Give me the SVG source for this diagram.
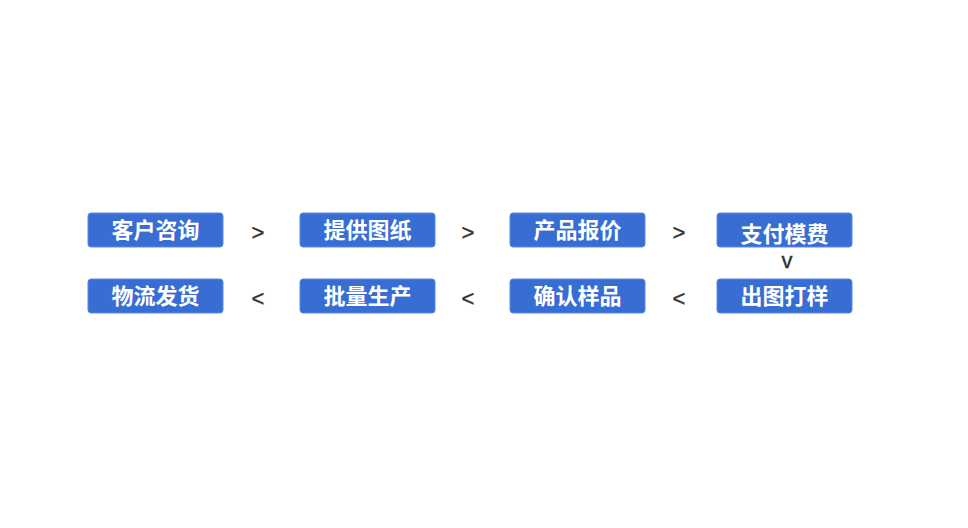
<svg xmlns="http://www.w3.org/2000/svg" width="968" height="528" viewBox="0 0 968 528">
<style>
.box{fill:#386dd4;stroke:#5a8ae0;stroke-width:1}
.lbl{font-family:"Noto Sans CJK SC","Liberation Sans",sans-serif;font-size:22px;font-weight:bold;fill:#ffffff;text-anchor:middle}
.sym{font-family:"Liberation Sans",sans-serif;font-size:22px;fill:#333333;stroke:#333333;stroke-width:0.4;text-anchor:middle}
</style>
<rect width="968" height="528" fill="#ffffff"/>
<g id="n1"><rect class="box" x="88" y="213" width="135" height="34" rx="3"/><text class="lbl" x="155.5" y="238">客户咨询</text></g>
<g id="n2"><rect class="box" x="300" y="213" width="135" height="34" rx="3"/><text class="lbl" x="367.5" y="238">提供图纸</text></g>
<g id="n3"><rect class="box" x="510" y="213" width="135" height="34" rx="3"/><text class="lbl" x="577.5" y="238">产品报价</text></g>
<g id="n4"><rect class="box" x="717" y="213" width="135" height="34" rx="3"/><text class="lbl" x="784.5" y="242">支付模费</text></g>
<g id="n5"><rect class="box" x="717" y="279" width="135" height="34" rx="3"/><text class="lbl" x="784.5" y="304">出图打样</text></g>
<g id="n6"><rect class="box" x="510" y="279" width="135" height="34" rx="3"/><text class="lbl" x="577.5" y="304">确认样品</text></g>
<g id="n7"><rect class="box" x="300" y="279" width="135" height="34" rx="3"/><text class="lbl" x="367.5" y="304">批量生产</text></g>
<g id="n8"><rect class="box" x="88" y="279" width="135" height="34" rx="3"/><text class="lbl" x="155.5" y="304">物流发货</text></g>
<g id="connectors">
<text class="sym" x="258" y="240">&gt;</text>
<text class="sym" x="468" y="240">&gt;</text>
<text class="sym" x="679" y="240">&gt;</text>
<text class="sym" x="787" y="268">v</text>
<text class="sym" x="679" y="306">&lt;</text>
<text class="sym" x="468" y="306">&lt;</text>
<text class="sym" x="258" y="306">&lt;</text>
</g>
</svg>
